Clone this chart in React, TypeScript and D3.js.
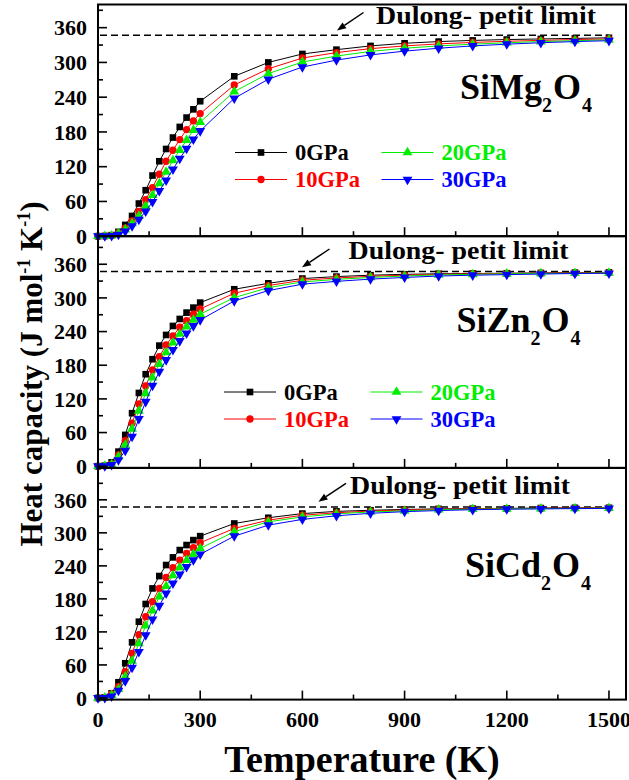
import React from "react";
import * as d3 from "d3";

// Temperatures (K) at which the heat capacity was evaluated
const temps = [0, 20, 40, 60, 80, 100, 120, 140, 160, 180, 200, 220, 240, 260, 280, 300,
  400, 500, 600, 700, 800, 900, 1000, 1100, 1200, 1300, 1400, 1500];

// SiMg2O4, Cv (J mol^-1 K^-1)
const mg0 = [0, 0.4, 1.8, 7.5, 19.5, 35, 56.4, 79.4, 104.7, 129.4, 150.6, 170.3, 188.6, 204.8, 219, 233,
  276, 300, 314.6, 322, 328.5, 333, 336, 338, 339.5, 340.5, 341.5, 342.5];
const mg10 = [0, 0.3, 1.1, 5.7, 14.4, 26.5, 43, 63.3, 84, 107, 129.4, 148.4, 166.8, 184, 199, 211.7,
  261, 289, 307.6, 317, 323.8, 328.5, 332, 334.5, 336.5, 338, 339.5, 340.5];
const mg20 = [0, 0.2, 0.8, 4.6, 11.5, 21.9, 35, 51.8, 70.7, 91, 111, 131, 148.4, 165.6, 183, 197,
  249.6, 280.7, 300.7, 311, 319, 324.5, 328.5, 331.5, 334, 336, 337.5, 339];
const mg30 = [0, 0.1, 0.5, 2.9, 8.6, 17.3, 28.8, 43, 59.2, 78.2, 96.6, 115.6, 134, 151.3, 167.4, 181.7,
  238, 271, 292, 304, 313, 319.5, 324.5, 328.5, 331.5, 334, 336, 337.5];

// SiZn2O4
const zn0 = [0, 1, 7, 26, 55.8, 94.5, 130.6, 164, 190.7, 215, 234, 250, 262.5, 273.8, 282.7, 291.6,
  315.4, 326, 334.5, 338, 340.5, 342, 343, 343.5, 344, 344.5, 345, 345.5];
const zn10 = [0, 0.7, 4, 20, 45.6, 76.6, 111, 143, 171.6, 195.3, 216.2, 232.2, 247.7, 259.5, 271, 280.3,
  308.3, 322, 331.5, 335.5, 338.5, 340.5, 342, 343, 343.5, 344, 344.5, 345];
const zn20 = [0, 0.5, 3, 17, 38, 66.5, 98.6, 130, 158, 181.8, 203, 220.3, 235.8, 248.8, 260.7, 271,
  300.5, 318.3, 328.5, 333, 336.5, 339, 341, 342, 343, 343.5, 344, 344.5];
const zn30 = [0, 0.3, 2.5, 11, 27.8, 52.8, 84.3, 115, 143.6, 168.6, 189.4, 207.3, 223.3, 237, 250, 260.7,
  294.6, 313, 324.5, 329.5, 333.5, 336.5, 339, 340.5, 341.5, 342.5, 343.5, 344];

// SiCd2O4
const cd0 = [0, 1.2, 8.5, 28.5, 63, 101, 138.5, 170.7, 199, 221.5, 241.5, 255.4, 268.7, 277.8, 286.8, 294,
  317, 327.4, 335, 339, 341, 342.5, 343.5, 344, 344.5, 345, 345.5, 345.5];
const cd10 = [0, 0.9, 7.3, 20.6, 47.8, 81, 115, 147.6, 175, 199, 219, 236.6, 250.5, 262.7, 273, 282,
  308, 323, 332, 336.5, 339.5, 341.5, 343, 343.5, 344, 344.5, 345, 345.5];
const cd20 = [0, 0.7, 5, 15.8, 38.7, 67.2, 99.3, 131.3, 158.5, 184, 203.3, 222.7, 237.2, 250.5, 261.4, 271.8,
  302, 320, 329, 334.5, 338, 340, 342, 343, 343.5, 344, 344.5, 345];
const cd30 = [0, 0.4, 3, 13.3, 30.9, 55, 84, 114.4, 142.9, 167.6, 190, 208.2, 224.6, 238.4, 250.5, 261,
  294, 314, 324.4, 331, 335.5, 338.5, 340.5, 342, 343, 343.5, 344, 344.5];

const pressures = ["0GPa", "10GPa", "20GPa", "30GPa"];
const colors = ["#000000", "#ff0000", "#00ee00", "#0000ff"];
const shapes = ["square", "circle", "triangle", "downTriangle"];

const xTicks = [0, 300, 600, 900, 1200, 1500];
const xMinor = [150, 450, 750, 1050, 1350];
const yTicks = [0, 60, 120, 180, 240, 300, 360];
const yMinor = [30, 90, 150, 210, 270, 330, 390];

const dulongPetit = 347;

const W = 629;
const H = 780;
const left = 98;
const right = 626;
const panelTops = [4.5, 236.2, 467.9];
const panelH = 231.7;

const FONT = "'Liberation Serif', 'Times New Roman', serif";

type Panel = {
  series: number[][];
  yDomain: [number, number];
  compound: [string, string, string];
  nameAt: [number, number];
  legendAt: [number, number] | null;
  dpText: [number, number];
  arrow: [number, number, number, number];
};

const panels: Panel[] = [
  {
    series: [mg0, mg10, mg20, mg30],
    yDomain: [0, 400],
    compound: ["SiMg", "2", "O"],
    nameAt: [460, 98.5],
    legendAt: [235, 152.5],
    dpText: [376, 23.5],
    arrow: [363.5, 12.5, 337, 30.5],
  },
  {
    series: [zn0, zn10, zn20, zn30],
    yDomain: [-3, 410],
    compound: ["SiZn", "2", "O"],
    nameAt: [456.5, 331.5],
    legendAt: [224, 392],
    dpText: [348.5, 258.5],
    arrow: [329.5, 249, 302, 267.3],
  },
  {
    series: [cd0, cd10, cd20, cd30],
    yDomain: [-3, 418],
    compound: ["SiCd", "2", "O"],
    nameAt: [465, 576.5],
    legendAt: null,
    dpText: [350, 493.5],
    arrow: [346, 483.3, 318.5, 501.7],
  },
];

const x = d3.scaleLinear().domain([0, 1550]).range([left, right]);

const symbolPath = (shape: string) => {
  if (shape === "square") return d3.symbol(d3.symbolSquare, 44)() as string;
  if (shape === "circle") return d3.symbol(d3.symbolCircle, 42)() as string;
  return d3.symbol(d3.symbolTriangle, 42)() as string;
};

function Marker({ shape, cx, cy, color }: { shape: string; cx: number; cy: number; color: string }) {
  const rot = shape === "downTriangle" ? 180 : 0;
  return (
    <path
      d={symbolPath(shape)}
      transform={`translate(${cx},${cy}) rotate(${rot})`}
      fill={color}
      stroke="none"
    />
  );
}

function PanelView({ p, idx }: { p: Panel; idx: number }) {
  const top = panelTops[idx];
  const bottom = top + panelH;
  const y = d3.scaleLinear().domain(p.yDomain).range([bottom, top]);
  const line = d3
    .line<number>()
    .x((_, i) => x(temps[i]))
    .y((v) => y(v));
  const isLast = idx === panels.length - 1;
  const [ax1, ay1, ax2, ay2] = p.arrow;
  const ang = Math.atan2(ay2 - ay1, ax2 - ax1);
  const hl = 9;
  const hw = 3.5;
  const head = [
    [ax2, ay2],
    [ax2 - hl * Math.cos(ang) + hw * Math.sin(ang), ay2 - hl * Math.sin(ang) - hw * Math.cos(ang)],
    [ax2 - hl * Math.cos(ang) - hw * Math.sin(ang), ay2 - hl * Math.sin(ang) + hw * Math.cos(ang)],
  ];
  return (
    <g>
      {/* Dulong-Petit limit */}
      <line
        x1={x(0) + 2}
        x2={x(1500)}
        y1={y(dulongPetit)}
        y2={y(dulongPetit)}
        stroke="#000"
        strokeWidth={1.4}
        strokeDasharray="7,4"
      />
      {/* curves */}
      {p.series.map((s, si) => (
        <g key={si}>
          <path d={line(s) as string} fill="none" stroke={colors[si]} strokeWidth={1} />
          {s.map((v, i) => (
            <Marker key={i} shape={shapes[si]} cx={x(temps[i])} cy={y(v)} color={colors[si]} />
          ))}
        </g>
      ))}
      {/* frame */}
      <rect x={left} y={top} width={right - left} height={panelH} fill="none" stroke="#000" strokeWidth={2} />
      {/* y ticks */}
      {yTicks.map((t) => (
        <g key={"y" + t}>
          <line x1={left} x2={left + 9} y1={y(t)} y2={y(t)} stroke="#000" strokeWidth={1.6} />
          <text
            x={left - 11}
            y={y(t)}
            dy="0.35em"
            textAnchor="end"
            fontFamily={FONT}
            fontWeight="bold"
            fontSize={22}
          >
            {t}
          </text>
        </g>
      ))}
      {yMinor
        .filter((t) => t <= p.yDomain[1])
        .map((t) => (
          <line key={"ym" + t} x1={left} x2={left + 5} y1={y(t)} y2={y(t)} stroke="#000" strokeWidth={1.6} />
        ))}
      {/* x ticks */}
      {xTicks.map((t) => (
        <g key={"x" + t}>
          <line x1={x(t)} x2={x(t)} y1={bottom} y2={bottom - 9} stroke="#000" strokeWidth={1.6} />
          {isLast && (
            <text
              x={x(t)}
              y={bottom + 27}
              textAnchor="middle"
              fontFamily={FONT}
              fontWeight="bold"
              fontSize={22}
            >
              {t}
            </text>
          )}
        </g>
      ))}
      {xMinor.map((t) => (
        <line key={"xm" + t} x1={x(t)} x2={x(t)} y1={bottom} y2={bottom - 5} stroke="#000" strokeWidth={1.6} />
      ))}
      {/* limit annotation */}
      <line x1={ax1} y1={ay1} x2={head[1][0] * 0.5 + head[2][0] * 0.5} y2={head[1][1] * 0.5 + head[2][1] * 0.5} stroke="#000" strokeWidth={1.5} />
      <polygon points={head.map((q) => q.join(",")).join(" ")} fill="#000" />
      <text
        x={p.dpText[0]}
        y={p.dpText[1]}
        fontFamily={FONT}
        fontWeight="bold"
        fontSize={25}
        textLength={220}
        lengthAdjust="spacingAndGlyphs"
      >
        Dulong- petit limit
      </text>
      {/* compound name */}
      <text x={p.nameAt[0]} y={p.nameAt[1]} fontFamily={FONT} fontWeight="bold" fontSize={36}>
        {p.compound[0]}
        <tspan fontSize={20} dy={13.3}>{p.compound[1]}</tspan>
        <tspan fontSize={36} dy={-13.3} dx={1}>{p.compound[2]}</tspan>
        <tspan fontSize={20} dy={13.3} dx={1}>4</tspan>
      </text>
      {/* legend */}
      {p.legendAt &&
        pressures.map((lab, si) => {
          const col = si < 2 ? 0 : 1;
          const row = si % 2;
          const lx = p.legendAt![0] + col * 146.5;
          const ly = p.legendAt![1] + row * 27;
          return (
            <g key={lab}>
              <line x1={lx} x2={lx + 52} y1={ly} y2={ly} stroke={colors[si]} strokeWidth={1} />
              <Marker shape={shapes[si]} cx={lx + 26} cy={ly} color={colors[si]} />
              <text
                x={lx + 60}
                y={ly + 7.5}
                fontFamily={FONT}
                fontWeight="bold"
                fontSize={22.5}
                fill={colors[si]}
              >
                {lab}
              </text>
            </g>
          );
        })}
    </g>
  );
}

export default function App() {
  return (
    <svg
      width={W}
      height={H}
      viewBox={`0 0 ${W} ${H}`}
      style={{ position: "absolute", left: 0, top: 0, background: "#fff" }}
    >
      <rect width={W} height={H} fill="#fff" />
      {panels.map((p, i) => (
        <PanelView key={i} p={p} idx={i} />
      ))}
      <text
        transform="translate(42,374) rotate(-90)"
        textAnchor="middle"
        fontFamily={FONT}
        fontWeight="bold"
        fontSize={31}
      >
        Heat capacity (J mol
        <tspan fontSize={18} dy={-12}>-1</tspan>
        <tspan fontSize={31} dy={12}> K</tspan>
        <tspan fontSize={18} dy={-12}>-1</tspan>
        <tspan fontSize={31} dy={12}>)</tspan>
      </text>
      <text
        x={(left + right) / 2}
        y={771.5}
        textAnchor="middle"
        fontFamily={FONT}
        fontWeight="bold"
        fontSize={38}
      >
        Temperature (K)
      </text>
    </svg>
  );
}
